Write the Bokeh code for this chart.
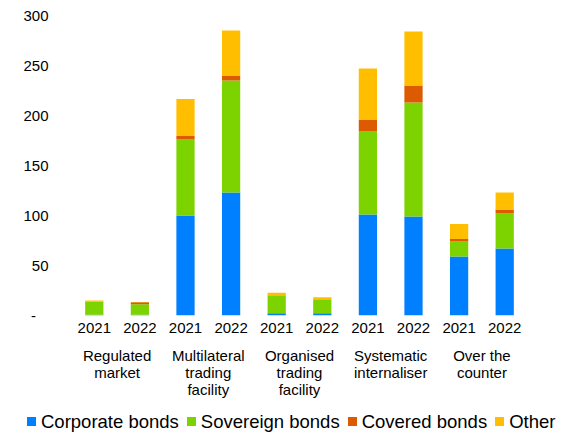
from bokeh.plotting import figure
from bokeh.layouts import column
from bokeh.models import (FactorRange, ColumnDataSource, Range1d, FixedTicker, CategoricalAxis, Div)
from bokeh.embed import file_html
from bokeh.resources import INLINE

venues = ["Regulated\nmarket", "Multilateral\ntrading\nfacility", "Organised\ntrading\nfacility",
          "Systematic\ninternaliser", "Over the\ncounter"]
years = ["2021", "2022"]

corporate = [0.7, 0.7, 100, 123, 2.3, 2.3, 101, 99, 59, 67]
sovereign = [13, 10.5, 76, 112, 17.7, 13.7, 83.5, 114, 15, 35]
covered = [0.2, 2, 3.5, 5, 0.3, 0.3, 11.5, 17, 2.5, 4]
other = [1, 0.3, 37, 45, 2.5, 2, 51, 54, 15, 17]

series = ["Corporate bonds", "Sovereign bonds", "Covered bonds", "Other"]
colors = ["#007FFF", "#7DD300", "#DC5A00", "#FFBF00"]

FONT = "Liberation Sans"

# unique factor per bar; the year text is shown, zero-width spaces keep them distinct
factors = [y + "\u200b" * i for i, y in enumerate(years * len(venues))]
source = ColumnDataSource(dict(x=factors, c=corporate, s=sovereign, v=covered, o=other))

p = figure(x_range=FactorRange(*factors, range_padding=0),
           y_range=Range1d(0, 300), width=566, height=410,
           output_backend="svg", toolbar_location=None,
           min_border_left=71, min_border_right=39, min_border_top=15, min_border_bottom=95)
p.extra_x_ranges = {"venues": FactorRange(*venues, range_padding=0)}

renderers = p.vbar_stack(["c", "s", "v", "o"], x="x", width=0.4, source=source,
                         color=colors, line_color=None)

p.outline_line_color = None
p.xgrid.grid_line_color = None
p.ygrid.grid_line_color = None

def style_axis(ax, standoff):
    ax.axis_line_color = None
    ax.major_tick_line_color = None
    ax.minor_tick_line_color = None
    ax.major_tick_out = 0
    ax.major_tick_in = 0
    ax.major_label_standoff = standoff
    ax.major_label_text_font = FONT
    ax.major_label_text_font_size = "15px"
    ax.major_label_text_color = "#000000"

xa = p.xaxis[0]
style_axis(xa, 3)

xa2 = CategoricalAxis(x_range_name="venues")
style_axis(xa2, 8)
xa2.major_label_text_line_height = 1.0
p.add_layout(xa2, "below")

ya = p.yaxis[0]
ya.ticker = FixedTicker(ticks=[0, 50, 100, 150, 200, 250, 300])
ya.major_label_overrides = {0: "-\u00a0\u00a0\u00a0"}
style_axis(ya, 23)

# legend strip (HTML) below the chart
items = []
for i, (s, c) in enumerate(zip(series, colors)):
    ml = "0px" if i == 0 else "8px"
    items.append(
        f'<span style="display:inline-block;width:9px;height:9px;background:{c};'
        f'margin-left:{ml};margin-right:5px;vertical-align:middle;position:relative;top:-1px"></span>'
        f'<span style="vertical-align:middle">{s}</span>')
legend_html = ('<div style="font-family:\'Liberation Sans\';font-size:18.5px;line-height:22px;'
               'white-space:nowrap;padding-left:27px;color:#000000">' + "".join(items) + '</div>')
legend_div = Div(text=legend_html, width=566, height=22, margin=(0, 0, 0, 0))

layout = column(p, legend_div, spacing=0)
open("out.html", "w").write(file_html(layout, INLINE))
